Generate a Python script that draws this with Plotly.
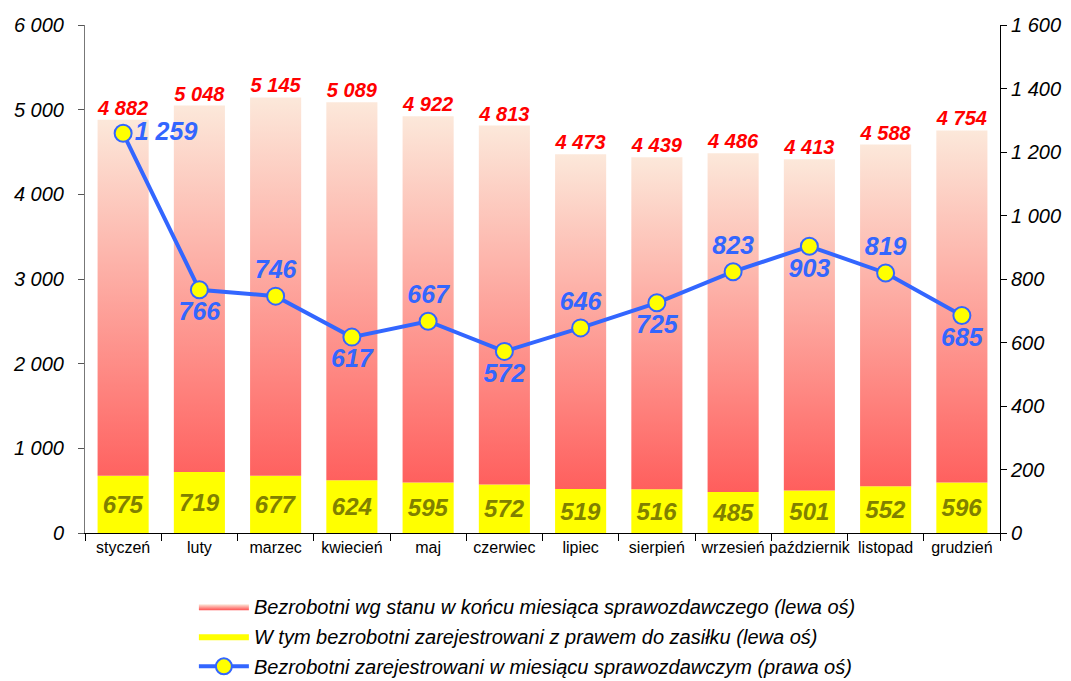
import plotly.graph_objects as go

months = ["styczeń", "luty", "marzec", "kwiecień", "maj", "czerwiec", "lipiec",
          "sierpień", "wrzesień", "październik", "listopad", "grudzień"]
total = [4882, 5048, 5145, 5089, 4922, 4813, 4473, 4439, 4486, 4413, 4588, 4754]
benefit = [675, 719, 677, 624, 595, 572, 519, 516, 485, 501, 552, 596]
registered = [1259, 766, 746, 617, 667, 572, 646, 725, 823, 903, 819, 685]

left_ticks = [0, 1000, 2000, 3000, 4000, 5000, 6000]
right_ticks = [0, 200, 400, 600, 800, 1000, 1200, 1400, 1600]

name_total = "Bezrobotni wg stanu w końcu miesiąca sprawozdawczego (lewa oś)"
name_benefit = "W tym bezrobotni zarejestrowani z prawem do zasiłku (lewa oś)"
name_reg = "Bezrobotni zarejestrowani w miesiącu sprawozdawczym (prawa oś)"

FONT = "Liberation Sans, Arial, sans-serif"
BLUE = "#3366FF"
BAR_W = 0.67


def fmt(v):
    return f"{v:,}".replace(",", " ")


fig = go.Figure()

# gradient bars (portion above yellow bar), gradient over whole bar height
for i, (t, b) in enumerate(zip(total, benefit)):
    x0, x1 = i - BAR_W / 2, i + BAR_W / 2
    fig.add_trace(go.Scatter(
        x=[x0, x1, x1, x0, x0], y=[b, b, t, t, b],
        mode="lines", fill="toself", line=dict(width=0),
        fillcolor="#FB9C8E",
        fillgradient=dict(type="vertical", start=0, stop=t,
                          colorscale=[[0, "#FF4D4D"], [1, "#FCE8DA"]]),
        name=name_total, legendgroup="g1", showlegend=(i == 0),
        hoverinfo="skip", legendrank=1,
    ))

fig.add_trace(go.Bar(
    x=list(range(12)), y=benefit, width=BAR_W,
    marker=dict(color="#FFFF00", line=dict(width=0)),
    text=[fmt(v) for v in benefit], textposition="inside",
    insidetextanchor="middle", constraintext="none",
    textfont=dict(family=FONT, size=24, color="#808000", weight="bold", style="italic"),
    name=name_benefit, legendgroup="g2", showlegend=False, hoverinfo="skip",
))
# legend entry for yellow bars (wide swatch like the reference)
fig.add_trace(go.Scatter(
    x=[None], y=[None], mode="lines", fill="toself", fillcolor="#FFFF00",
    line=dict(width=0, color="#FFFF00"),
    name=name_benefit, legendgroup="g2", legendrank=2, hoverinfo="skip",
))

# total labels above bars
fig.add_trace(go.Scatter(
    x=list(range(12)), y=total, mode="text",
    text=[fmt(v) for v in total], textposition="top center",
    textfont=dict(family=FONT, size=20, color="#FF0000", weight="bold", style="italic"),
    showlegend=False, hoverinfo="skip",
))

positions = ["middle right", "bottom center", "top center", "bottom center", "top center",
             "bottom center", "top center", "bottom center", "top center", "bottom center",
             "top center", "bottom center"]
fig.add_trace(go.Scatter(
    x=list(range(12)), y=registered, yaxis="y2", mode="lines+markers+text",
    line=dict(color=BLUE, width=4),
    marker=dict(size=17, color="#FFFF00", line=dict(color=BLUE, width=2)),
    text=[fmt(v) for v in registered], textposition=positions,
    textfont=dict(family=FONT, size=25, color=BLUE, weight="bold", style="italic"),
    name=name_reg, legendgroup="g3", legendrank=3, hoverinfo="skip",
))

fig.update_layout(
    width=1063, height=673,
    margin=dict(l=77, r=71, t=17, b=148, autoexpand=False),
    paper_bgcolor="white", plot_bgcolor="white",
    separators=". ",
    showlegend=True,
    font=dict(family=FONT, color="black"),
    xaxis=dict(
        range=[-0.5, 11.5], tickmode="array", tickvals=list(range(12)), ticktext=months,
        ticks="", showgrid=False, zeroline=False, showline=True, linecolor="black", linewidth=1,
        tickfont=dict(family=FONT, size=16, color="black"),
        minor=dict(tickmode="linear", tick0=-0.5, dtick=1, ticks="outside", ticklen=7,
                   tickcolor="black", showgrid=False),
    ),
    yaxis=dict(
        range=[0, 6000], tickmode="array", tickvals=left_ticks, tickformat=",d",
        ticks="outside", ticklen=6, tickcolor="#555555", showgrid=False, zeroline=False,
        showline=True, linecolor="#777777", linewidth=1, ticklabelstandoff=10,
        tickfont=dict(family=FONT, size=20, color="black", style="italic"),
    ),
    yaxis2=dict(
        range=[0, 1600], tickmode="array", tickvals=right_ticks, tickformat=",d",
        overlaying="y", side="right", anchor="x",
        ticks="outside", ticklen=6, tickcolor="black", showgrid=False, zeroline=False,
        showline=True, linecolor="black", linewidth=1,
        tickfont=dict(family=FONT, size=20, color="black", style="italic"),
    ),
    legend=dict(
        orientation="v", x=0.119, xanchor="left", y=-0.106, yanchor="top",
        itemwidth=50, tracegroupgap=1, traceorder="grouped",
        font=dict(family=FONT, size=20, color="black", style="italic"),
        bgcolor="rgba(0,0,0,0)",
    ),
)

fig.write_html("out.html")
